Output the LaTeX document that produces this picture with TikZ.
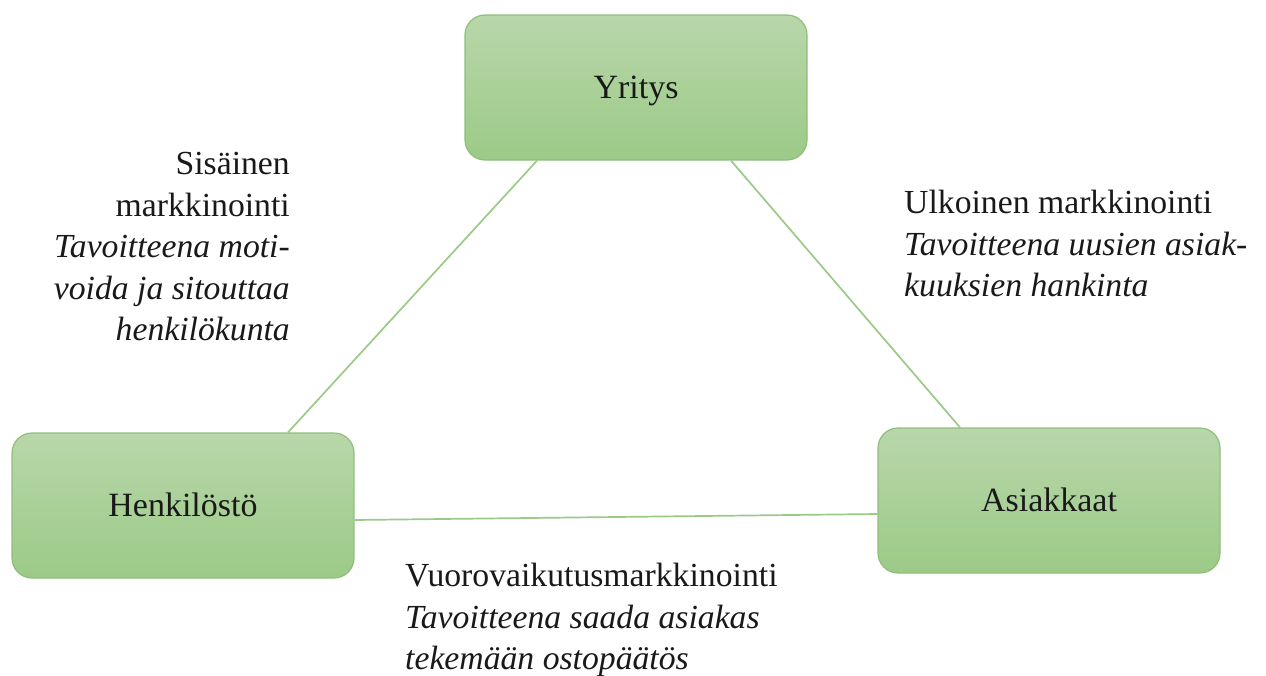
\documentclass[tikz,border=0pt]{standalone}
\usepackage{fontspec}
\setmainfont{Liberation Serif}
\definecolor{boxtop}{RGB}{184,215,170}
\definecolor{boxbot}{RGB}{156,202,135}
\definecolor{boxedge}{RGB}{143,190,124}
\definecolor{linkgreen}{RGB}{155,202,135}
\definecolor{ink}{RGB}{25,25,25}
\begin{document}
\begin{tikzpicture}[x=1pt,y=-1pt,
  party/.style={draw=boxedge, line width=1.2pt, rounded corners=20pt,
    top color=boxtop, bottom color=boxbot,
    minimum width=342pt, minimum height=145pt, inner sep=0pt,
    text height=22pt, text depth=0pt,
    text=ink, font=\fontsize{34}{41.5}\selectfont},
  link/.style={draw=linkgreen, line width=1.7pt},
  note/.style={inner sep=0pt, text=ink, font=\fontsize{33.7}{41.5}\selectfont}
]
\useasboundingbox (0,0) rectangle (1266,675);

% the three parties of the marketing triangle
\node[party] (Y) at (636,87.5) {Yritys};
\node[party] (H) at (183,505.5) {Henkilöstö};
\node[party] (A) at (1049,500.5) {Asiakkaat};

% sides of the triangle
\draw[link] ([xshift=-99pt]Y.south) -- ([xshift=105pt]H.north);
\draw[link] ([xshift=95pt]Y.south) -- ([xshift=-89pt]A.north);
\draw[link] ([yshift=-14.5pt]H.east) -- ([yshift=-13.5pt]A.west);

% side labels
\node[note, anchor=north east, align=right] (sis) at (290,152)
  {Sisäinen\\markkinointi\\\textit{Tavoitteena moti-}\\\textit{voida ja sitouttaa}\\\textit{henkilökunta}};
\node[note, anchor=north west, align=left] (ulk) at (904,190)
  {Ulkoinen markkinointi\\\textit{Tavoitteena uusien asiak-}\\\textit{kuuksien hankinta}};
\node[note, anchor=north west, align=left] (vuo) at (405,563)
  {Vuorovaikutusmarkkinointi\\\textit{Tavoitteena saada asiakas}\\\textit{tekemään ostopäätös}};
\end{tikzpicture}
\end{document}
